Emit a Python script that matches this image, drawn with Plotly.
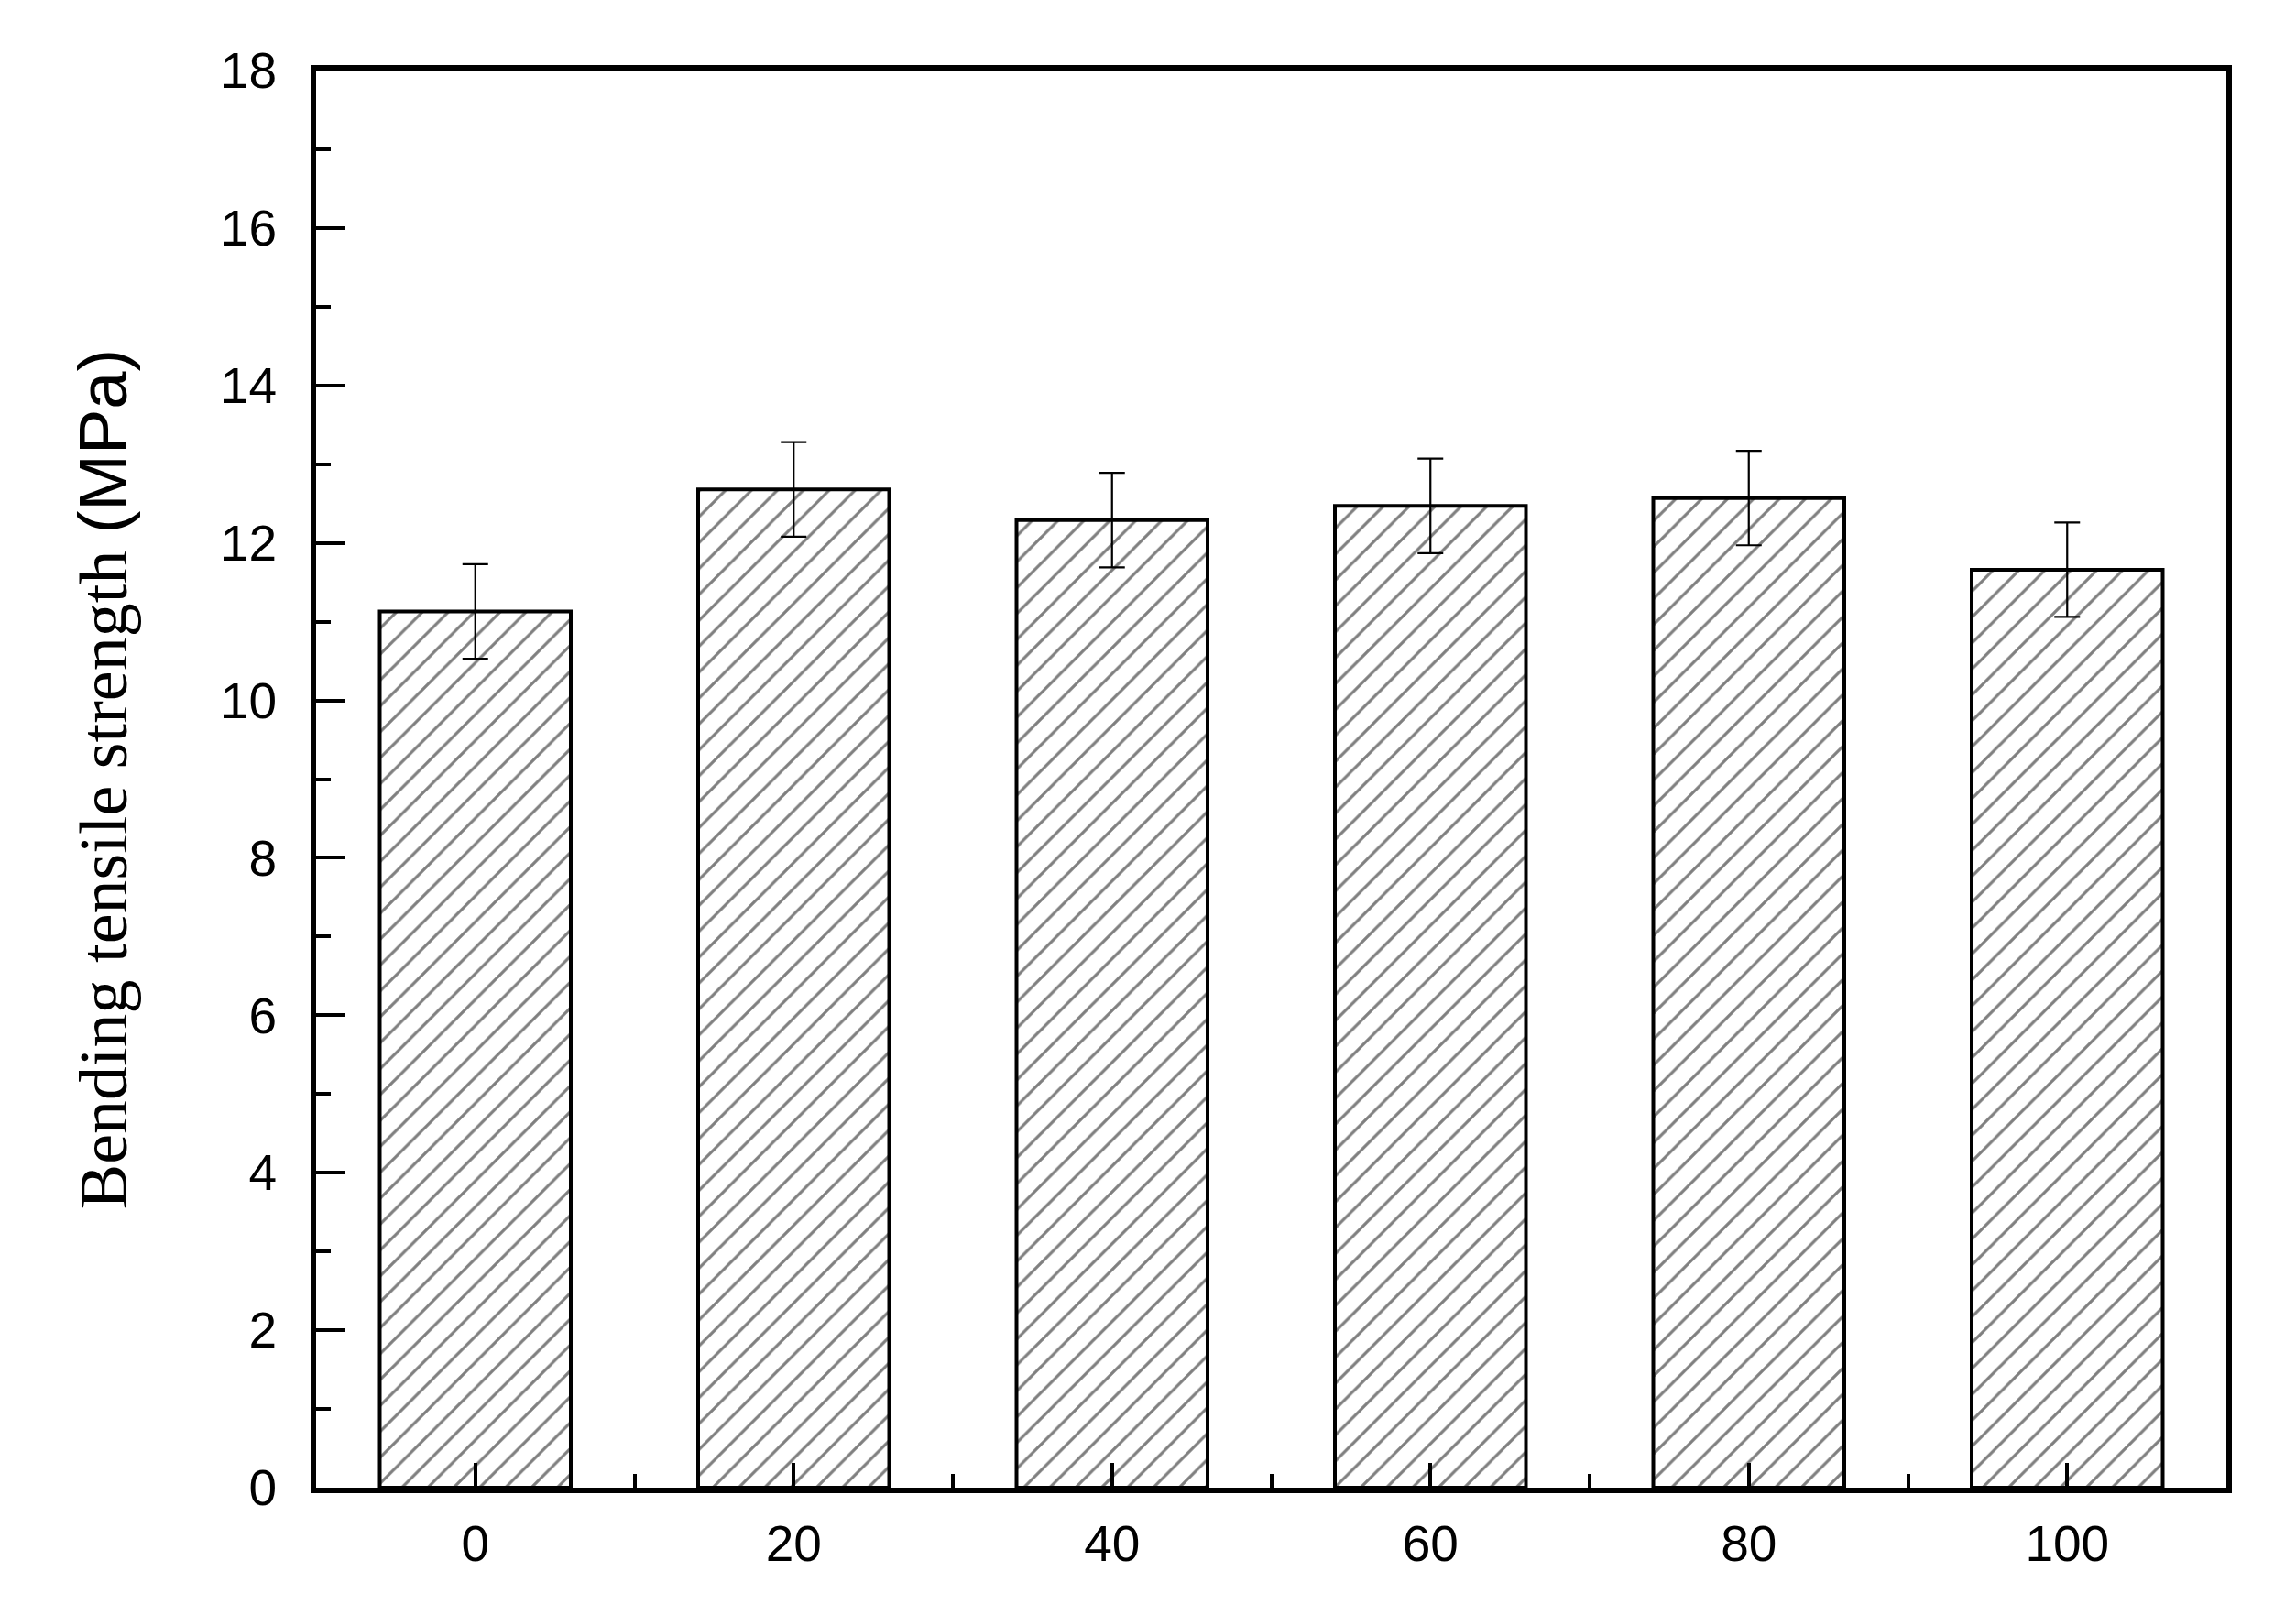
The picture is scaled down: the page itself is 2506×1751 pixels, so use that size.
import plotly.graph_objects as go

# replacement ratio (%) on the x axis
ratios = [0, 20, 40, 60, 80, 100]
# bending tensile strength (MPa) and its spread
strength = [11.13, 12.68, 12.29, 12.47, 12.57, 11.66]
strength_err = [0.6, 0.6, 0.6, 0.6, 0.6, 0.6]
minor_x = [10, 30, 50, 70, 90]

fig = go.Figure(go.Bar(
    x=ratios,
    y=strength,
    width=12,
    marker=dict(
        color="white",
        line=dict(color="black", width=4),
        pattern=dict(shape="/", fgcolor="black", bgcolor="white", size=20, solidity=0.16),
    ),
    error_y=dict(type="data", array=strength_err, color="black", thickness=2.2, width=14),
))

axis_font = dict(family="Liberation Sans, Arial", size=55, color="black")

fig.update_layout(
    width=2506,
    height=1751,
    margin=dict(l=337, r=84, t=69, b=135),
    paper_bgcolor="white",
    plot_bgcolor="white",
    showlegend=False,
    xaxis=dict(
        range=[-10, 110],
        tickmode="array",
        tickvals=ratios,
        ticks="inside",
        ticklen=27,
        tickwidth=4,
        tickcolor="black",
        showline=True,
        linecolor="black",
        linewidth=6,
        mirror=True,
        showgrid=False,
        zeroline=False,
        tickfont=axis_font,
        ticklabelstandoff=8,
        minor=dict(tickmode="array", tickvals=minor_x, ticks="inside",
                   ticklen=15, tickwidth=4, tickcolor="black"),
    ),
    yaxis=dict(
        range=[0, 18],
        tickmode="linear",
        tick0=0,
        dtick=2,
        ticks="inside",
        ticklen=32,
        tickwidth=4,
        tickcolor="black",
        showline=True,
        linecolor="black",
        linewidth=6,
        mirror=True,
        showgrid=False,
        zeroline=False,
        tickfont=axis_font,
        ticklabelstandoff=26,
        minor=dict(dtick=1, ticks="inside", ticklen=16, tickwidth=4, tickcolor="black"),
        title=dict(
            text="Bending tensile strength <span style='font-family:Liberation Sans, Arial'>(MPa)</span>",
            font=dict(family="Liberation Serif, Times New Roman", size=74, color="black"),
            standoff=80,
        ),
    ),
)

fig.write_html("out.html")
